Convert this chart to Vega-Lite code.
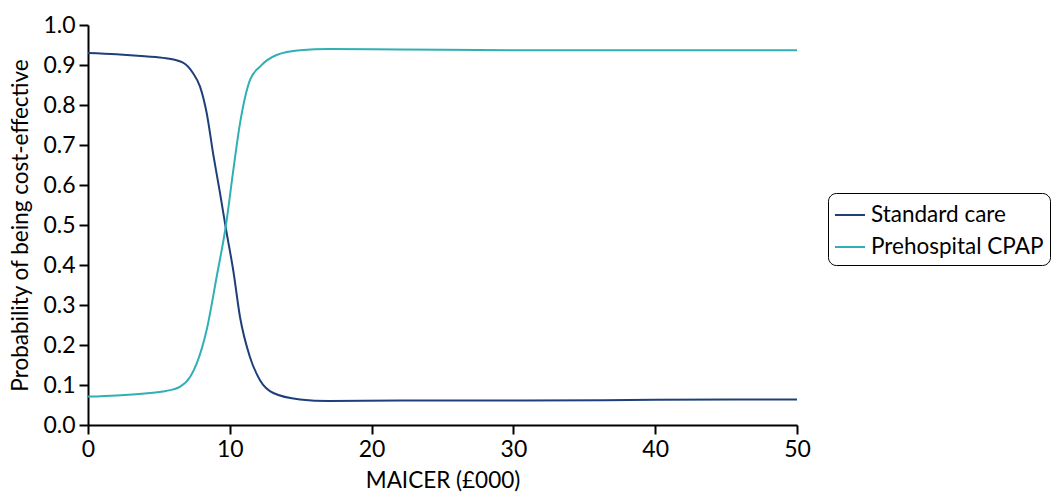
{
  "$schema": "https://vega.github.io/schema/vega-lite/v6.json",
  "autosize": {"type": "none"},
  "width": 709,
  "height": 400,
  "padding": {"left": 88, "top": 25, "right": 258, "bottom": 67},
  "background": "white",
  "config": {
    "view": {"stroke": null},
    "font": "Lato",
    "axis": {"labelFont": "Lato", "titleFont": "Lato", "labelFontSize": 23, "titleFontSize": 22.5, "titleFontWeight": "normal", "labelColor": "black", "titleColor": "black", "domainColor": "black", "tickColor": "black", "domainWidth": 2, "tickWidth": 2, "tickSize": 9, "grid": false, "labelFlush": false},
    "legend": {"labelFont": "Lato", "labelFontSize": 22.5, "labelColor": "black", "labelLimit": 300}
  },
  "data": {"values": [
    {"x": 0, "p": 0.930, "s": "Standard care"},
    {"x": 2, "p": 0.927, "s": "Standard care"},
    {"x": 4, "p": 0.922, "s": "Standard care"},
    {"x": 5.5, "p": 0.917, "s": "Standard care"},
    {"x": 6.7, "p": 0.906, "s": "Standard care"},
    {"x": 7.4, "p": 0.880, "s": "Standard care"},
    {"x": 7.9, "p": 0.846, "s": "Standard care"},
    {"x": 8.37, "p": 0.780, "s": "Standard care"},
    {"x": 8.84, "p": 0.675, "s": "Standard care"},
    {"x": 9.31, "p": 0.580, "s": "Standard care"},
    {"x": 9.73, "p": 0.490, "s": "Standard care"},
    {"x": 10.25, "p": 0.385, "s": "Standard care"},
    {"x": 10.72, "p": 0.270, "s": "Standard care"},
    {"x": 11.42, "p": 0.170, "s": "Standard care"},
    {"x": 12.13, "p": 0.112, "s": "Standard care"},
    {"x": 13.07, "p": 0.080, "s": "Standard care"},
    {"x": 14.95, "p": 0.064, "s": "Standard care"},
    {"x": 17, "p": 0.060, "s": "Standard care"},
    {"x": 22, "p": 0.061, "s": "Standard care"},
    {"x": 30, "p": 0.061, "s": "Standard care"},
    {"x": 40, "p": 0.063, "s": "Standard care"},
    {"x": 50, "p": 0.064, "s": "Standard care"},
    {"x": 0, "p": 0.071, "s": "Prehospital CPAP"},
    {"x": 2, "p": 0.074, "s": "Prehospital CPAP"},
    {"x": 4, "p": 0.079, "s": "Prehospital CPAP"},
    {"x": 5.5, "p": 0.085, "s": "Prehospital CPAP"},
    {"x": 6.5, "p": 0.096, "s": "Prehospital CPAP"},
    {"x": 7.2, "p": 0.120, "s": "Prehospital CPAP"},
    {"x": 7.67, "p": 0.154, "s": "Prehospital CPAP"},
    {"x": 8.37, "p": 0.238, "s": "Prehospital CPAP"},
    {"x": 9.07, "p": 0.370, "s": "Prehospital CPAP"},
    {"x": 9.73, "p": 0.500, "s": "Prehospital CPAP"},
    {"x": 10.25, "p": 0.638, "s": "Prehospital CPAP"},
    {"x": 10.72, "p": 0.754, "s": "Prehospital CPAP"},
    {"x": 11.42, "p": 0.862, "s": "Prehospital CPAP"},
    {"x": 12.13, "p": 0.896, "s": "Prehospital CPAP"},
    {"x": 13.3, "p": 0.925, "s": "Prehospital CPAP"},
    {"x": 14.95, "p": 0.937, "s": "Prehospital CPAP"},
    {"x": 17, "p": 0.940, "s": "Prehospital CPAP"},
    {"x": 22, "p": 0.939, "s": "Prehospital CPAP"},
    {"x": 30, "p": 0.937, "s": "Prehospital CPAP"},
    {"x": 40, "p": 0.937, "s": "Prehospital CPAP"},
    {"x": 50, "p": 0.937, "s": "Prehospital CPAP"}
  ]},
  "mark": {"type": "line", "strokeWidth": 2, "interpolate": "monotone"},
  "encoding": {
    "x": {"field": "x", "type": "quantitative", "scale": {"domain": [0, 50], "nice": false}, "axis": {"values": [0, 10, 20, 30, 40, 50], "title": "MAICER (£000)", "labelPadding": 4, "titlePadding": 8}},
    "y": {"field": "p", "type": "quantitative", "scale": {"domain": [0, 1], "nice": false}, "axis": {"values": [0, 0.1, 0.2, 0.3, 0.4, 0.5, 0.6, 0.7, 0.8, 0.9, 1.0], "format": ".1f", "title": "Probability of being cost-effective", "labelPadding": 4, "titlePadding": 10}},
    "color": {"field": "s", "type": "nominal", "sort": ["Standard care", "Prehospital CPAP"], "scale": {"domain": ["Standard care", "Prehospital CPAP"], "range": ["#1e3f7a", "#30b0b5"]},
      "legend": {"title": null, "orient": "none", "legendX": 740, "legendY": 168, "strokeColor": "black", "cornerRadius": 8, "padding": 6, "symbolType": "stroke", "symbolSize": 900, "symbolStrokeWidth": 2, "labelOffset": 5, "rowPadding": 4}}
  }
}
